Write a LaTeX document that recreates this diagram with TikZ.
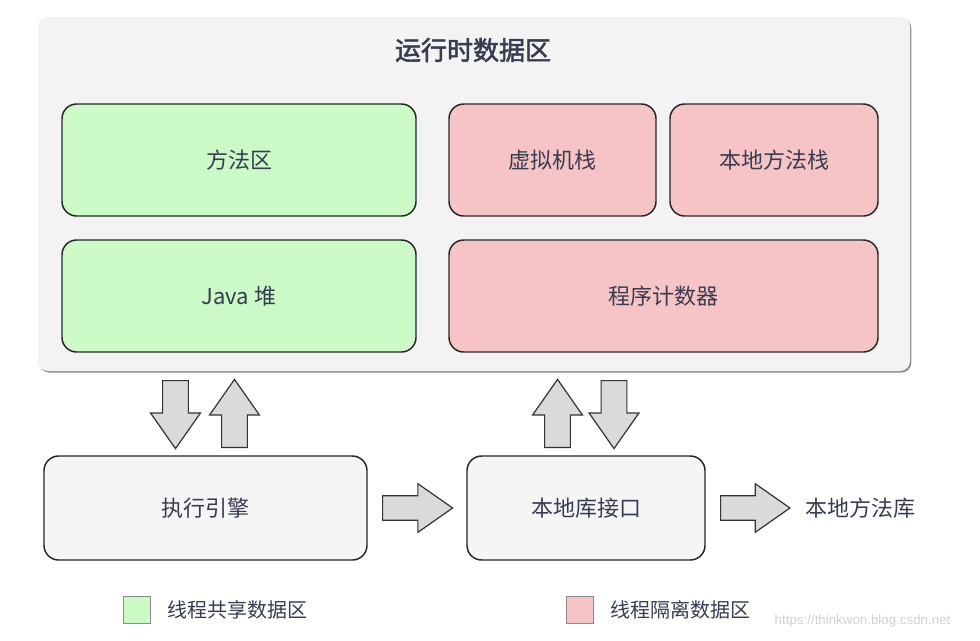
\documentclass[tikz,border=0pt]{standalone}
\usepackage{fontspec}
\setmainfont{Noto Sans CJK SC}
\newfontfamily\titlefont[FakeBold=2]{Noto Sans CJK SC}
\newfontfamily\markfont{Liberation Sans}
\usetikzlibrary{shapes.arrows,shadows}

\definecolor{txt}{RGB}{55,60,80}
\definecolor{areabg}{RGB}{243,243,243}
\definecolor{unitbg}{RGB}{245,245,245}
\definecolor{sharedbg}{RGB}{204,250,198}
\definecolor{privatebg}{RGB}{246,196,196}
\definecolor{arrowbg}{RGB}{218,218,218}

\tikzstyle{area} = [
    rectangle, rounded corners=7.5pt,
    minimum width=654pt, minimum height=265.5pt,
    fill=areabg,
    drop shadow={shadow xshift=1pt, shadow yshift=-1.2pt, fill=black!45, opacity=1}
]
\tikzstyle{region} = [
    rectangle, rounded corners=11pt,
    minimum height=84pt,
    text=txt, font=\fontsize{16.5}{20}\selectfont,
    draw=black!85, line width=1.1pt
]
\tikzstyle{sharedarea} = [region, fill=sharedbg]
\tikzstyle{privatearea} = [region, fill=privatebg]
\tikzstyle{unit} = [
    rectangle, rounded corners=11pt,
    minimum height=78pt,
    text=txt, font=\fontsize{16.5}{20}\selectfont,
    draw=black!85, line width=1.1pt, fill=unitbg
]
\tikzstyle{blockarrow} = [
    single arrow, draw=black!80, line width=0.9pt, fill=arrowbg,
    single arrow head extend=9pt, single arrow tip angle=70,
    single arrow head indent=0pt, minimum height=51pt, anchor=tail
]
\tikzstyle{flatarrow} = [blockarrow, inner xsep=0pt, inner ysep=8.8pt]
\tikzstyle{uparrow} = [blockarrow, inner xsep=9.2pt, inner ysep=0pt, shape border rotate=90]
\tikzstyle{downarrow} = [blockarrow, inner xsep=9.2pt, inner ysep=0pt, shape border rotate=270]
\tikzstyle{legendbox} = [
    rectangle, minimum width=20pt, minimum height=20pt,
    draw=black!45, line width=1pt
]
\tikzstyle{legendtext} = [anchor=west, text=txt, font=\fontsize{15}{18}\selectfont]

\begin{document}
\begin{tikzpicture}[x=0.75pt, y=-0.75pt]
    \useasboundingbox (0,0) rectangle (980,640);

    \node (runtime) [area] at (474,194) {};
    \node (title) [text=txt, font=\titlefont\fontsize{19.5}{23}\selectfont] at (473,50) {运行时数据区};

    \node (method) [sharedarea, minimum width=265.5pt] at (239,160) {方法区};
    \node (heap) [sharedarea, minimum width=265.5pt] at (239,296) {Java 堆};
    \node (vmstack) [privatearea, minimum width=155.25pt] at (552.5,160) {虚拟机栈};
    \node (nativestack) [privatearea, minimum width=156pt] at (774,160) {本地方法栈};
    \node (pc) [privatearea, minimum width=321.75pt] at (663.5,296) {程序计数器};

    \node (engine) [unit, minimum width=242.25pt] at (205.5,508) {执行引擎};
    \node (jni) [unit, minimum width=178.5pt] at (586,508) {本地库接口};
    \node (nativelib) [text=txt, font=\fontsize{16.5}{20}\selectfont] at (860,508) {本地方法库};

    % arrows between the areas
    \node (heapdown) [downarrow] at (175.5,380) {};
    \node (heapup) [uparrow] at (234.5,448) {};
    \node (pcup) [uparrow] at (557.5,448) {};
    \node (pcdown) [downarrow] at (614,380) {};
    \node (tojni) [flatarrow, minimum height=52.5pt] at (382,508) {};
    \node (tolib) [flatarrow, minimum height=52pt] at (720,508) {};

    % legend
    \node (keyshared) [legendbox, fill=sharedbg] at (137,610) {};
    \node (keysharedtext) [legendtext] at (163,610) {线程共享数据区};
    \node (keyprivate) [legendbox, fill=privatebg] at (580,610) {};
    \node (keyprivatetext) [legendtext] at (606,610) {线程隔离数据区};
    \node (mark) [anchor=west, text=black!18, font=\markfont\fontsize{10}{12}\selectfont] at (770,621) {https://thinkwon.blog.csdn.net};
\end{tikzpicture}
\end{document}
